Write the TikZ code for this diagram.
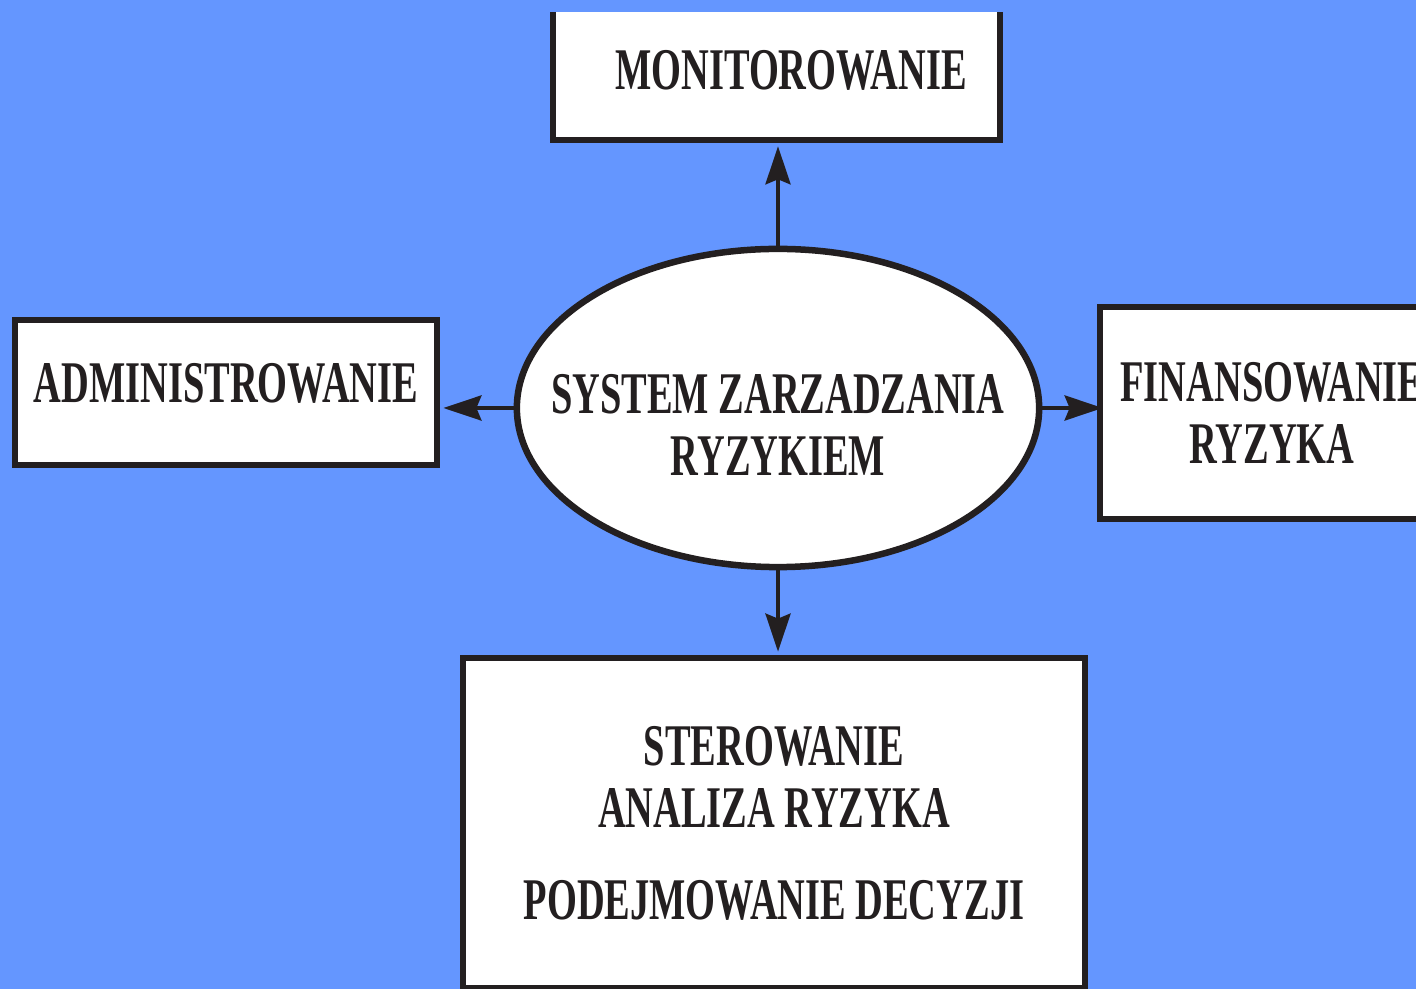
\documentclass[tikz,border=0pt]{standalone}
\usepackage{fontspec}
\newfontfamily\boxfont{Liberation Serif}[FakeStretch=0.65]
\usetikzlibrary{arrows.meta,shapes.geometric}
\definecolor{bgblue}{RGB}{100,150,255}
\definecolor{inkblack}{RGB}{35,31,32}

\begin{document}
\begin{tikzpicture}[x=0.01cm, y=-0.01cm,
  every node/.style={font=\boxfont\bfseries\fontsize{16.8}{17.6}\selectfont, text=inkblack},
  box/.style={draw=inkblack, fill=white, line width=0.065cm, inner sep=0pt, align=center},
  arr/.style={draw=inkblack, line width=0.04cm, -{Stealth[length=0.38cm,width=0.25cm,inset=0.05cm]}}]
  \useasboundingbox (0,0) rectangle (1416,989);
  \fill[bgblue] (0,0) rectangle (1416,989);

  \begin{scope}
    \clip (0,13) rectangle (1416,989);
    % Centre
    \node[box, ellipse, minimum width=5.22cm, minimum height=3.18cm,
      label={[align=center, yshift=-0.17cm]center:SYSTEM ZARZADZANIA\\RYZYKIEM}] (sys) at (778,408) {};

    % Boxes round it
    \node[box, minimum width=4.47cm, minimum height=1.40cm] (mon) at (776.5,70) {\hspace*{0.29cm}MONITOROWANIE};
    \node[box, minimum width=4.22cm, minimum height=1.45cm] (adm) at (226,392.5) {\raisebox{0.2cm}{ADMINISTROWANIE}};
    \node[box, minimum width=3.44cm, minimum height=2.12cm] (fin) at (1272,413) {FINANSOWANIE\\RYZYKA};
    \node[box, minimum width=6.22cm, minimum height=3.30cm] (ster) at (774,823)
      {\fontsize{16.8}{18.4}\selectfont STEROWANIE\\ANALIZA RYZYKA\\[0.3cm]PODEJMOWANIE DECYZJI};

    % Arrows
    \draw[arr, shorten >=0.03cm] (sys.north) -- (sys.north |- mon.south);
    \draw[arr, shorten >=0.03cm] (sys.west) -- (adm.east |- sys.west);
    \draw[arr, shorten >=-0.06cm] (sys.east) -- (fin.west |- sys.east);
    \draw[arr, shorten >=0.03cm] (sys.south) -- (sys.south |- ster.north);
  \end{scope}
\end{tikzpicture}
\end{document}
